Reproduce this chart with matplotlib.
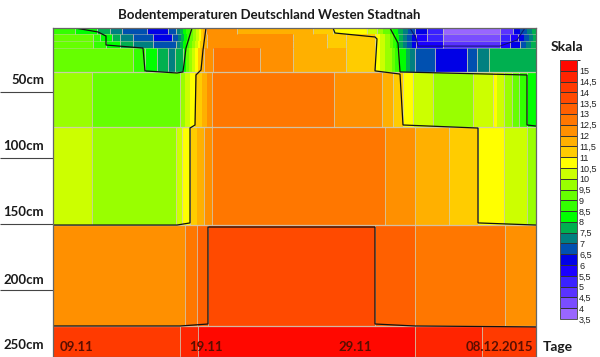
import numpy as np
import matplotlib
matplotlib.use("Agg")
import matplotlib.pyplot as plt
from matplotlib.colors import ListedColormap, BoundaryNorm
from matplotlib.cm import ScalarMappable

plt.rcParams['font.family'] = ['Lato', 'DejaVu Sans']

title = 'Bodentemperaturen Deutschland Westen Stadtnah'

# temperature bands, lower bound of each one
levels = [3.5, 4, 4.5, 5, 5.5, 6, 6.5, 7, 7.5, 8, 8.5, 9, 9.5, 10, 10.5, 11,
          11.5, 12, 12.5, 13, 13.5, 14, 14.5, 15, 15.5]
band_colors = ['#9966ff', '#7a4dff', '#5a33ff', '#3a22ff', '#1a00ff', '#0000e6',
               '#0050b0', '#008080', '#00b050', '#00ff00', '#33ff00', '#66ff00',
               '#99ff00', '#ccff00', '#ffff00', '#ffcc00', '#ffb000', '#ff9000',
               '#ff7700', '#ff6000', '#ff4a00', '#ff3a00', '#ff2400', '#ff0800']

# depth limits of the measured layers (cm)
depths = [1.5, 6, 11.5, 17, 35, 76.5, 151, 227, 251]

# x is in readings since 09.11, about 16 a day
row1_x = [0, 22, 44, 57, 69, 94, 115, 123, 127, 130, 133, 137, 140, 143, 146, 148, 150, 153, 184, 260,
          280, 314, 324, 330, 337, 340, 345, 350, 355, 362, 374, 390, 447, 460, 467, 474, 479, 483]
row1_t = [8.5, 8, 7.5, 7, 6.5, 6, 6.5, 7, 7.5, 8, 8.5, 9, 9.5, 10, 10.5, 11, 11.5, 12, 11.5,
          11, 10.5, 10, 9.5, 9, 8.5, 8, 7.5, 7, 6.5, 6, 5, 3.5, 4.5, 6, 6.5, 7, 7.5]
row2_x = [0, 40, 47, 59, 67, 80, 100, 119, 125, 128, 131, 134, 137, 140, 143, 146, 148, 150, 154, 240, 274,
          293, 322, 327, 332, 337, 340, 343, 346, 350, 354, 359, 363, 374, 390, 447, 457, 465, 471, 476, 480, 483]
row2_t = [9, 8.5, 8, 7.5, 7, 6.5, 6, 6.5, 7, 7.5, 8, 8.5, 9, 9.5, 10, 10.5, 11, 11.5, 12, 11.5, 11,
          11, 10.5, 10, 9.5, 9, 8.5, 8, 7.5, 7, 6.5, 6, 5.5, 5, 4, 5, 5.5, 6, 6.5, 7, 7.5]
row3_x = [0, 40, 53, 67, 80, 100, 123, 127, 130, 133, 136, 139, 142, 145, 147, 150, 154, 240, 274,
          293, 322, 327, 332, 337, 340, 343, 346, 350, 354, 359, 363, 390, 447, 457, 467, 473, 478, 483]
row3_t = [9, 8.5, 8, 7.5, 7, 6.5, 7, 7.5, 8, 8.5, 9, 9.5, 10, 10.5, 11, 11.5, 12, 11.5, 11,
          11, 10.5, 10, 9.5, 9, 8.5, 8, 7.5, 7, 6.5, 6, 5.5, 4.5, 5.5, 6, 6.5, 7, 7.5]
row4_x = [0, 80, 92, 104, 115, 122, 130, 133, 136, 139, 142, 145, 148, 151, 160, 207, 240, 293,
          322, 327, 332, 339, 342, 347, 353, 357, 362, 382, 414, 424, 436, 483]
row4_t = [9, 8.5, 8, 7.5, 7, 7.5, 8, 9, 9.5, 10, 10.5, 11, 11.5, 12, 12.5, 12, 11.5,
          11, 10.5, 10, 9.5, 9, 8.5, 8, 7.5, 7, 6.5, 6, 6.5, 7, 7.5]
row5_x = [0, 39, 127, 132, 137, 142, 149, 154, 159, 281, 329, 340, 350, 360, 380, 420, 440, 444, 451, 459, 466, 474, 483]
row5_t = [9.5, 9, 9.5, 10, 10.5, 11, 11.5, 12, 12.5, 12, 11.5, 11, 10.5, 10, 9.5, 10, 10.5, 10, 9.5, 9, 8.5, 8]
row6_x = [0, 39, 123, 129, 137, 144, 151, 159, 332, 362, 396, 425, 451, 474, 483]
row6_t = [10, 9.5, 10, 10.5, 11, 11.5, 12, 12.5, 12, 11.5, 11, 10.5, 10, 9.5]
row7_x = [0, 132, 144, 155, 322, 362, 452, 483]
row7_t = [12, 12.5, 13, 13.5, 13, 12.5, 12]
row8_x = [0, 127, 145, 362, 429, 483]
row8_t = [14, 14.5, 15, 14.5, 14]

rows_x = [row1_x, row2_x, row3_x, row4_x, row5_x, row6_x, row7_x, row8_x]
rows_t = [row1_t, row2_t, row3_t, row4_t, row5_t, row6_t, row7_t, row8_t]

# black isolines as (reading, depth)
line_a_x = [22, 45, 53, 53, 90, 92, 124, 130, 133, 139]
line_a_d = [1.5, 4.5, 7.6, 14.4, 16.7, 34, 35.6, 34.8, 16.7, 1.5]
line_b_x = [153, 150, 148, 143, 142, 137, 137, 124, 0]
line_b_d = [1.5, 18.2, 33.3, 37.1, 75, 77.3, 149.2, 150.8, 150.8]
line_c_x = [280, 282, 322, 324, 322, 347, 350, 425, 425, 483]
line_c_d = [1.5, 5.3, 8.3, 9.8, 34, 36.4, 75, 77.3, 149.2, 150.8]
line_d_x = [337, 345, 347, 474, 474, 483]
line_d_d = [1.5, 12.9, 34.8, 37.1, 75, 75.8]
line_e_x = [0, 127, 155, 155, 322, 322, 362, 483]
line_e_d = [227.3, 227.3, 225.8, 152.3, 152.3, 225.8, 227.3, 228]
line_f_x = [357, 363, 365, 447, 464, 472]
line_f_d = [1.5, 9, 15.2, 15.2, 10.6, 1.5]

depth_ticks = [50, 100, 150, 200]
depth_labels = [(50, '50cm', 8.5), (100, '100cm', 8.5), (150, '150cm', 8.5), (200, '200cm', 7), (250, '250cm', 8)]
date_labels = [(24, '09.11'), (153, '19.11'), (302, '29.11'), (446, '08.12.2015')]

# stretches of the shallow layer borders that show a seam, the rest blends
seam_from = [0, 345]
seam_to = [128, 483]

fig = plt.figure(figsize=(6, 3.57), dpi=100)
ax = fig.add_axes([53 / 600, 0, 483 / 600, 329 / 357])

cmap = ListedColormap(band_colors)
norm = BoundaryNorm(levels, cmap.N)
seam = '#cfcbb4'

for i in range(len(rows_x)):
    vals = np.array(rows_t[i]).reshape(1, -1) + 0.25
    ax.pcolormesh(rows_x[i], depths[i:i + 2], vals, cmap=cmap, norm=norm,
                  edgecolors='none', linewidth=0, antialiased=False)
    # no seams between the very narrow strips
    widths = np.diff(rows_x[i])
    for j in range(1, len(widths)):
        if max(widths[j - 1], widths[j]) >= 8:
            ax.vlines(rows_x[i][j], depths[i], depths[i + 1], color=seam, lw=0.7, alpha=0.8)

for d in depths[1:4]:
    ax.hlines([d, d], seam_from, seam_to, color=seam, lw=0.5, alpha=0.6)
ax.hlines(depths[4:8], 0, 483, color=seam, lw=0.9, alpha=0.9)

for xs, ds in [(line_a_x, line_a_d), (line_b_x, line_b_d), (line_c_x, line_c_d),
               (line_d_x, line_d_d), (line_e_x, line_e_d)]:
    ax.plot(xs, ds, color='#111111', lw=0.9, solid_joinstyle='miter')
ax.plot(line_f_x, line_f_d, color='#10106a', lw=0.7)

ax.set_xlim(0, 483)
ax.set_ylim(250.8, 1.5)
ax.set_xticks([])
ax.set_yticks(depth_ticks)
ax.set_yticklabels([])
ax.tick_params(axis='y', length=38.2, width=0.8, color='#444444')
for s in ax.spines.values():
    s.set_color('#666666')
    s.set_linewidth(0.9)

for d, lab, off in depth_labels:
    ax.annotate(lab, (0, d), xytext=(-6.5, off), textcoords='offset points',
                annotation_clip=False, ha='right', va='center',
                fontsize=9.5, fontweight='bold', color='#1a1a1a')

for x, lab in date_labels:
    ax.text(x, 243, lab, ha='center', va='center', fontsize=9.5,
            fontweight='bold', color='#5a0f00')

fig.text(269 / 600, 1 - 15 / 357, title, ha='center', va='center',
         fontsize=9.5, fontweight='bold', color='#1a1a1a')
fig.text(567 / 600, 1 - 47 / 357, 'Skala', ha='center', va='center',
         fontsize=10, fontweight='bold', color='#1a1a1a')
fig.text(558 / 600, 1 - 347 / 357, 'Tage', ha='center', va='center',
         fontsize=10, fontweight='bold', color='#1a1a1a')

cax = fig.add_axes([560 / 600, 1 - 319 / 357, 17 / 600, 259 / 357])
cb = fig.colorbar(ScalarMappable(norm=norm, cmap=cmap), cax=cax, drawedges=True,
                  ticks=levels[:-1], spacing='uniform')
cb.dividers.set_color('#333333')
cb.dividers.set_linewidth(0.7)
cb.outline.set_edgecolor('#555555')
cb.outline.set_linewidth(0.7)
cb.ax.set_yticklabels([('%g' % v).replace('.', ',') for v in levels[:-1]],
                      fontsize=6.5, family='Liberation Sans', color='#222222')
cb.ax.tick_params(length=0, pad=1.5)

fig.savefig('out.png', dpi=100)
